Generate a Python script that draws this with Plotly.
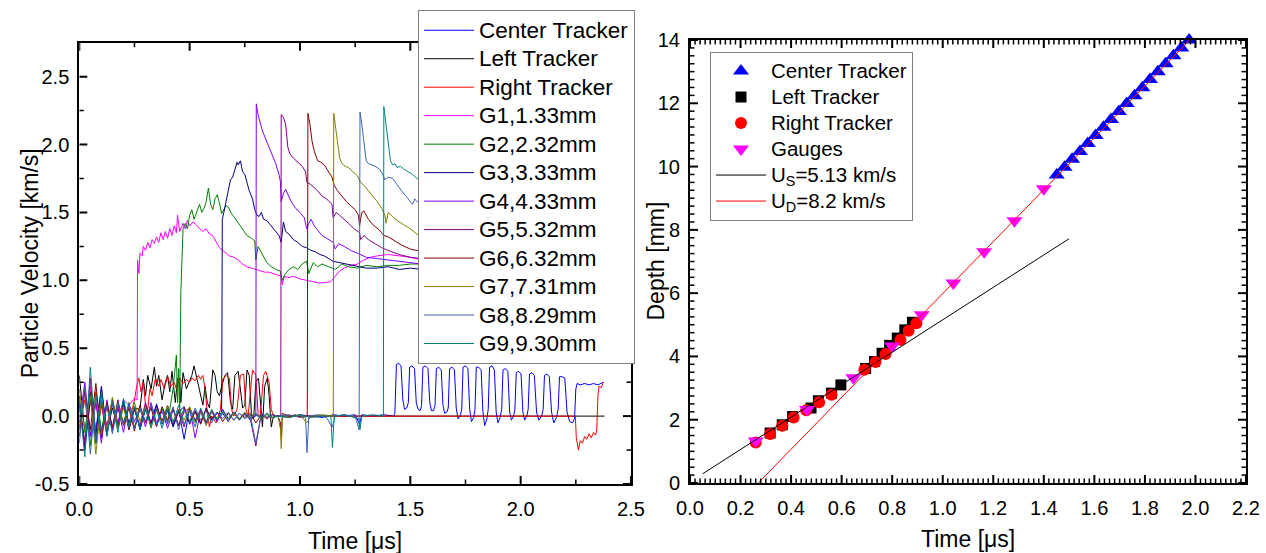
import plotly.graph_objects as go

W, H = 1266, 553
FONT = "Arial, Liberation Sans, sans-serif"

# ======================= Left panel: particle velocity traces =======================
# shared sampling times for the pre-arrival (noise) part of each record [us]
T_N = [0.000, 0.025, 0.050, 0.075, 0.100, 0.125, 0.150, 0.175, 0.200, 0.225,
       0.250, 0.275, 0.300, 0.325, 0.350, 0.375, 0.400, 0.425, 0.450, 0.475,
       0.500, 0.525, 0.550, 0.575, 0.600, 0.625, 0.650, 0.675, 0.700, 0.725,
       0.750, 0.775, 0.800, 0.825, 0.850, 0.875]

CT_NOISE = [0.08, -0.22, 0.15, -0.10, 0.20, -0.14, 0.09, -0.06, 0.11, -0.08, 0.05, -0.09,
            0.07, -0.05, 0.09, -0.06, 0.04, -0.07, 0.05, -0.17, 0.06, -0.04, 0.03, -0.05,
            0.04, -0.03, 0.02, -0.04, 0.03, -0.02, 0.02, -0.03, 0.01, -0.02, 0.02, -0.01]
CT_POST = [(0.90, 0.00), (0.95, -0.01), (1.00, 0.01), (1.05, 0.00), (1.10, -0.01), (1.15, 0.01),
           (1.20, 0.00), (1.25, 0.01), (1.27, -0.06), (1.28, 0.01), (1.33, 0.00), (1.38, 0.01),
           (1.425, 0.00),
           (1.430, 0.02), (1.437, 0.38), (1.447, 0.39), (1.458, 0.37), (1.466, 0.12), (1.474, 0.05), (1.484, 0.06),
           (1.491, 0.10), (1.497, 0.36), (1.508, 0.37), (1.519, 0.35), (1.527, 0.10), (1.535, 0.05), (1.545, 0.04),
           (1.551, 0.08), (1.557, 0.36), (1.568, 0.37), (1.580, 0.35), (1.588, 0.10), (1.596, 0.04), (1.605, 0.04),
           (1.612, 0.08), (1.618, 0.35), (1.629, 0.36), (1.640, 0.34), (1.648, 0.08), (1.656, 0.02), (1.666, 0.03),
           (1.672, 0.06), (1.678, 0.35), (1.689, 0.36), (1.700, 0.34), (1.708, 0.06), (1.716, -0.02), (1.726, 0.00),
           (1.733, 0.05), (1.739, 0.36), (1.750, 0.37), (1.761, 0.35), (1.769, 0.05), (1.777, -0.04), (1.787, -0.01),
           (1.793, 0.05), (1.799, 0.36), (1.810, 0.36), (1.821, 0.34), (1.829, 0.03), (1.837, -0.07), (1.847, -0.02),
           (1.853, 0.05), (1.859, 0.36), (1.870, 0.37), (1.881, 0.34), (1.889, 0.03), (1.897, -0.05), (1.907, -0.01),
           (1.914, 0.05), (1.920, 0.34), (1.931, 0.35), (1.942, 0.33), (1.950, 0.03), (1.958, -0.03), (1.968, 0.00),
           (1.974, 0.05), (1.980, 0.32), (1.991, 0.33), (2.002, 0.31), (2.010, 0.03), (2.018, -0.03), (2.028, 0.00),
           (2.034, 0.05), (2.040, 0.31), (2.051, 0.32), (2.062, 0.30), (2.072, 0.03), (2.082, -0.03), (2.095, 0.00),
           (2.102, 0.05), (2.108, 0.30), (2.119, 0.31), (2.130, 0.29), (2.140, 0.03), (2.150, -0.05), (2.162, -0.01),
           (2.170, 0.05), (2.176, 0.29), (2.188, 0.29), (2.200, 0.28), (2.210, 0.03), (2.222, -0.04), (2.235, -0.05),
           (2.244, -0.02), (2.250, 0.20), (2.256, 0.24), (2.270, 0.23), (2.290, 0.24), (2.310, 0.23),
           (2.330, 0.24), (2.350, 0.23), (2.375, 0.25)]

LT_NOISE = [0.30, -0.12, 0.18, -0.20, 0.10, -0.08, 0.12, -0.07, 0.09, -0.10, 0.06, 0.05]
LT_POST = [(0.29, 0.27), (0.30, 0.15), (0.31, 0.30), (0.325, 0.20), (0.34, 0.36), (0.35, 0.22), (0.36, 0.30),
           (0.375, 0.12), (0.39, 0.25), (0.40, 0.30), (0.41, 0.18), (0.42, 0.33), (0.435, 0.10), (0.445, 0.28),
           (0.455, 0.25), (0.46, 0.10), (0.47, 0.32), (0.485, 0.20), (0.50, 0.26), (0.51, 0.30), (0.52, 0.37),
           (0.53, 0.30), (0.545, 0.18), (0.56, 0.08), (0.57, 0.22), (0.58, 0.10), (0.59, 0.06), (0.605, 0.34),
           (0.615, 0.30), (0.625, 0.18), (0.635, 0.15), (0.645, 0.22), (0.66, 0.30), (0.672, 0.32), (0.685, 0.10),
           (0.695, 0.05), (0.705, 0.30), (0.72, 0.33), (0.73, 0.20), (0.74, 0.06), (0.75, 0.08), (0.76, 0.34),
           (0.77, 0.30), (0.78, 0.02), (0.79, -0.02), (0.80, 0.25), (0.812, 0.28), (0.82, 0.10), (0.83, -0.08),
           (0.84, 0.22), (0.852, 0.28), (0.86, 0.15), (0.87, -0.08), (0.88, 0.00), (0.90, 0.00), (1.50, 0.00),
           (2.38, 0.00)]

RT_NOISE = [-0.08, 0.12, -0.15, 0.10, -0.12, 0.07, -0.09, 0.05, -0.04, 0.06]
RT_POST = [(0.24, 0.05), (0.25, 0.12), (0.26, 0.22), (0.27, 0.28), (0.28, 0.18), (0.29, 0.25), (0.30, 0.08),
           (0.31, 0.05), (0.32, 0.20), (0.33, 0.15), (0.345, 0.28), (0.36, 0.22), (0.37, 0.27), (0.385, 0.20),
           (0.40, 0.29), (0.415, 0.22), (0.43, 0.25), (0.44, 0.20), (0.455, 0.28), (0.47, 0.24), (0.485, 0.27),
           (0.50, 0.25), (0.51, 0.28), (0.525, 0.26), (0.54, 0.30), (0.55, 0.27), (0.56, 0.30), (0.57, 0.20),
           (0.58, 0.02), (0.59, -0.08), (0.60, 0.00), (0.62, -0.05), (0.64, 0.05), (0.65, 0.27), (0.665, 0.30),
           (0.68, 0.28), (0.69, 0.05), (0.70, 0.00), (0.715, 0.05), (0.73, 0.30), (0.745, 0.31), (0.755, 0.05),
           (0.765, 0.00), (0.775, 0.15), (0.785, 0.34), (0.80, 0.30), (0.81, 0.02), (0.82, 0.00), (0.835, 0.30),
           (0.845, 0.33), (0.86, 0.25), (0.87, 0.05), (0.88, 0.00), (0.90, 0.00), (2.248, 0.00), (2.252, -0.16),
           (2.258, -0.22), (2.262, -0.25), (2.27, -0.18), (2.28, -0.20), (2.29, -0.15), (2.30, -0.17),
           (2.31, -0.13), (2.32, -0.16), (2.33, -0.12), (2.34, -0.14), (2.345, -0.10), (2.35, 0.15),
           (2.355, 0.22), (2.365, 0.21), (2.375, 0.25)]

G1_NOISE = [0.05, -0.18, 0.22, -0.12, 0.15, -0.08, 0.10, -0.05, 0.12, 0.08, 0.13]
G1_POST = [(0.262, 0.12), (0.264, 1.15), (0.27, 1.05), (0.275, 1.20), (0.285, 1.18), (0.29, 1.25), (0.30, 1.22),
           (0.31, 1.28), (0.32, 1.24), (0.33, 1.30), (0.34, 1.27), (0.35, 1.32), (0.36, 1.28), (0.37, 1.35),
           (0.38, 1.30), (0.39, 1.36), (0.40, 1.31), (0.41, 1.38), (0.42, 1.33), (0.43, 1.40), (0.44, 1.35),
           (0.445, 1.48), (0.455, 1.36), (0.47, 1.42), (0.48, 1.38), (0.49, 1.44), (0.50, 1.40), (0.515, 1.43),
           (0.53, 1.41), (0.545, 1.38), (0.56, 1.36), (0.575, 1.38), (0.59, 1.34), (0.605, 1.33), (0.62, 1.28),
           (0.635, 1.24), (0.65, 1.22), (0.665, 1.20), (0.68, 1.18), (0.70, 1.17), (0.72, 1.15), (0.74, 1.12),
           (0.76, 1.10), (0.78, 1.09), (0.80, 1.08), (0.82, 1.07), (0.84, 1.06), (0.86, 1.06), (0.88, 1.05),
           (0.90, 1.04), (0.915, 1.03), (0.92, 0.97), (0.93, 1.03), (0.95, 1.02), (0.97, 1.03), (1.00, 1.01),
           (1.03, 1.00), (1.06, 0.99), (1.09, 0.98), (1.12, 0.985), (1.14, 0.99), (1.16, 1.03), (1.18, 1.07),
           (1.20, 1.09), (1.23, 1.11), (1.26, 1.12), (1.29, 1.15), (1.32, 1.17), (1.35, 1.18), (1.40, 1.19),
           (1.45, 1.18), (1.50, 1.17), (1.55, 1.15), (1.60, 1.14)]

G2_NOISE = [-0.10, 0.20, -0.22, 0.18, -0.10, 0.09, -0.11, 0.08, -0.06, 0.10, -0.08, 0.05, -0.04, 0.08,
            -0.07, 0.06, -0.05, 0.20]
G2_POST = [(0.44, 0.45), (0.445, 0.10), (0.45, 0.35), (0.455, 0.00), (0.46, 0.90), (0.465, 1.25), (0.47, 1.38),
           (0.48, 1.42), (0.49, 1.38), (0.50, 1.48), (0.51, 1.52), (0.52, 1.45), (0.53, 1.50), (0.545, 1.56),
           (0.555, 1.50), (0.565, 1.53), (0.575, 1.58), (0.585, 1.68), (0.595, 1.56), (0.605, 1.52), (0.615, 1.60),
           (0.625, 1.63), (0.635, 1.57), (0.645, 1.49), (0.655, 1.52), (0.665, 1.55), (0.675, 1.54), (0.69, 1.49),
           (0.70, 1.47), (0.72, 1.42), (0.74, 1.38), (0.76, 1.33), (0.78, 1.31), (0.795, 1.29), (0.80, 1.15),
           (0.81, 1.25), (0.82, 1.22), (0.835, 1.17), (0.85, 1.13), (0.87, 1.10), (0.89, 1.08), (0.91, 1.07),
           (0.92, 1.00), (0.93, 1.04), (0.95, 1.08), (0.97, 1.10), (0.99, 1.08), (1.01, 1.12), (1.03, 1.14),
           (1.04, 1.05), (1.06, 1.13), (1.08, 1.10), (1.10, 1.12), (1.13, 1.10), (1.16, 1.08), (1.19, 1.12),
           (1.22, 1.10), (1.26, 1.09), (1.30, 1.11), (1.35, 1.10), (1.40, 1.11), (1.45, 1.11), (1.50, 1.12),
           (1.55, 1.12), (1.60, 1.11)]

G3_NOISE = [0.15, -0.25, 0.12, -0.15, 0.22, -0.12, 0.06, -0.09, 0.11, -0.05, 0.07, -0.10, 0.05, -0.06,
            0.08, -0.04, 0.06, -0.08, 0.03, 0.07, -0.06, 0.04, -0.05, 0.06, -0.03, 0.02]
G3_POST = [(0.645, 0.02), (0.648, 1.45), (0.655, 1.50), (0.665, 1.58), (0.675, 1.68), (0.685, 1.74),
           (0.695, 1.76), (0.705, 1.82), (0.715, 1.87), (0.72, 1.85), (0.73, 1.88), (0.74, 1.80), (0.75, 1.78),
           (0.76, 1.72), (0.77, 1.66), (0.785, 1.60), (0.795, 1.52), (0.805, 1.48), (0.815, 1.47), (0.825, 1.50),
           (0.835, 1.45), (0.85, 1.44), (0.87, 1.40), (0.89, 1.36), (0.905, 1.33), (0.915, 1.28), (0.925, 1.43),
           (0.935, 1.36), (0.95, 1.34), (0.97, 1.30), (0.99, 1.28), (1.01, 1.25), (1.03, 1.24), (1.05, 1.22),
           (1.07, 1.21), (1.09, 1.19), (1.11, 1.18), (1.13, 1.16), (1.15, 1.14), (1.18, 1.13), (1.21, 1.12),
           (1.24, 1.11), (1.27, 1.10), (1.30, 1.09), (1.35, 1.09), (1.40, 1.10), (1.45, 1.08), (1.50, 1.09),
           (1.55, 1.08), (1.60, 1.09)]

G4_NOISE = [-0.05, 0.25, -0.15, 0.10, -0.20, 0.12, -0.10, 0.07, -0.12, 0.09, -0.04, 0.06, -0.08, 0.10,
            -0.05, 0.04, -0.09, 0.05, -0.07, 0.03, 0.06, -0.16, 0.04, -0.05, 0.03, -0.04, 0.05, -0.02,
            0.03, -0.03, 0.02, -0.01]
G4_POST = [(0.80, 0.00), (0.802, 2.30), (0.81, 2.22), (0.82, 2.15), (0.83, 2.10), (0.845, 2.04), (0.86, 1.98),
           (0.875, 1.92), (0.89, 1.86), (0.905, 1.78), (0.912, 1.72), (0.915, 1.58), (0.925, 1.64), (0.935, 1.67),
           (0.945, 1.63), (0.96, 1.58), (0.98, 1.53), (1.00, 1.50), (1.02, 1.46), (1.03, 1.38), (1.04, 1.42),
           (1.05, 1.45), (1.065, 1.40), (1.08, 1.37), (1.10, 1.33), (1.12, 1.31), (1.15, 1.28), (1.16, 1.23),
           (1.175, 1.27), (1.20, 1.25), (1.23, 1.22), (1.26, 1.20), (1.30, 1.17), (1.35, 1.16), (1.40, 1.15),
           (1.45, 1.14), (1.50, 1.13), (1.55, 1.12), (1.60, 1.12)]

G5_NOISE = [0.10, -0.20, 0.28, -0.18, 0.08, -0.14, 0.12, -0.06, 0.09, -0.10, 0.05, -0.07, 0.10, -0.06,
            0.07, -0.04, 0.08, -0.06, 0.04, -0.08, 0.06, -0.03, 0.05, -0.06, 0.04, -0.03, 0.04, -0.02,
            0.03, -0.02, 0.01, -0.02, -0.22, 0.02, -0.01, 0.01]
G5_POST = [(0.90, 0.00), (0.913, 0.00), (0.915, 2.22), (0.925, 2.20), (0.935, 2.15), (0.945, 1.98),
           (0.955, 1.93), (0.97, 1.90), (0.99, 1.87), (1.01, 1.84), (1.025, 1.80), (1.032, 1.72), (1.045, 1.71),
           (1.06, 1.69), (1.08, 1.66), (1.10, 1.62), (1.12, 1.60), (1.145, 1.56), (1.15, 1.46), (1.165, 1.50),
           (1.18, 1.48), (1.20, 1.45), (1.22, 1.42), (1.245, 1.38), (1.27, 1.35), (1.275, 1.30), (1.29, 1.33),
           (1.31, 1.30), (1.34, 1.27), (1.37, 1.24), (1.40, 1.22), (1.45, 1.19), (1.50, 1.17), (1.55, 1.16),
           (1.60, 1.15)]

G6_NOISE = [-0.15, 0.18, -0.10, 0.24, -0.16, 0.10, -0.08, 0.12, -0.07, 0.06, -0.11, 0.08, -0.05, 0.06,
            -0.08, 0.07, -0.03, 0.05, -0.07, 0.06, -0.04, 0.03, -0.06, 0.05, -0.02, 0.03, -0.04, 0.02,
            -0.03, 0.02, -0.01, 0.02, -0.05, 0.01, -0.02, 0.01]
G6_POST = [(0.90, 0.00), (0.912, -0.05), (0.916, -0.18), (0.92, 0.02), (0.95, 0.00), (0.98, 0.01),
           (1.01, -0.01), (1.033, 0.00), (1.036, 2.23), (1.045, 2.15), (1.055, 2.02), (1.065, 1.95), (1.08, 1.88),
           (1.095, 1.87), (1.11, 1.85), (1.13, 1.80), (1.145, 1.76), (1.155, 1.70), (1.17, 1.66), (1.19, 1.62),
           (1.21, 1.58), (1.23, 1.55), (1.25, 1.52), (1.265, 1.48), (1.27, 1.40), (1.28, 1.50), (1.29, 1.51),
           (1.31, 1.45), (1.33, 1.41), (1.36, 1.37), (1.38, 1.33), (1.40, 1.32), (1.43, 1.29), (1.46, 1.26),
           (1.50, 1.23), (1.53, 1.22), (1.56, 1.21), (1.60, 1.21)]

G7_NOISE = [0.20, -0.12, 0.15, -0.28, 0.12, -0.10, 0.14, -0.09, 0.06, -0.08, 0.10, -0.04, 0.07, -0.09,
            0.05, -0.05, 0.08, -0.04, 0.05, -0.03, 0.07, -0.05, 0.03, -0.07, 0.04, -0.02, 0.03, -0.03,
            0.02, -0.02, 0.03, -0.01, 0.02, -0.02, 0.01, -0.01]
G7_POST = [(0.90, 0.00), (0.912, -0.10), (0.915, -0.24), (0.92, 0.01), (0.95, -0.01), (1.00, 0.01),
           (1.03, -0.05), (1.05, 0.00), (1.10, 0.01), (1.15, 0.00), (1.151, 0.00), (1.153, 2.23), (1.16, 2.15),
           (1.17, 2.00), (1.18, 1.90), (1.19, 1.86), (1.205, 1.84), (1.22, 1.83), (1.24, 1.80), (1.26, 1.77),
           (1.275, 1.72), (1.29, 1.70), (1.31, 1.66), (1.33, 1.62), (1.35, 1.58), (1.37, 1.53), (1.385, 1.48),
           (1.39, 1.42), (1.40, 1.50), (1.42, 1.47), (1.44, 1.44), (1.47, 1.41), (1.50, 1.38), (1.53, 1.34),
           (1.56, 1.32), (1.60, 1.30)]

G8_NOISE = [-0.20, 0.22, -0.28, 0.15, -0.12, 0.08, -0.13, 0.10, -0.06, 0.08, -0.09, 0.06, -0.04, 0.09,
            -0.07, 0.04, -0.06, 0.07, -0.10, 0.05, -0.04, 0.06, -0.03, 0.04, -0.05, 0.03, -0.02, 0.03,
            -0.03, 0.02, -0.02, 0.01, -0.20, 0.02, -0.01, 0.01]
G8_POST = [(0.90, 0.00), (0.95, 0.01), (1.00, -0.01), (1.025, 0.00), (1.032, -0.27), (1.04, 0.00),
           (1.08, 0.01), (1.12, -0.01), (1.146, -0.08), (1.16, 0.00), (1.20, 0.01), (1.25, 0.00),
           (1.268, -0.10), (1.272, 2.24), (1.28, 2.15), (1.29, 2.02), (1.30, 1.88), (1.31, 1.86), (1.325, 1.85),
           (1.34, 1.84), (1.36, 1.82), (1.375, 1.78), (1.385, 1.74), (1.40, 1.76), (1.42, 1.75), (1.44, 1.70),
           (1.46, 1.66), (1.48, 1.62), (1.50, 1.58), (1.51, 1.56), (1.52, 1.60), (1.53, 1.58), (1.55, 1.57),
           (1.60, 1.56)]

G9_NOISE = [0.12, -0.30, 0.36, -0.20, 0.18, -0.15, 0.10, -0.12, 0.13, -0.08, 0.07, -0.10, 0.06, -0.08,
            0.05, -0.09, 0.06, -0.05, 0.08, -0.06, 0.04, -0.08, 0.06, -0.04, 0.05, -0.03, 0.04, -0.02,
            0.03, -0.03, 0.02, -0.02, 0.02, -0.01, 0.02, -0.01]
G9_POST = [(0.90, 0.00), (0.95, -0.01), (1.00, 0.01), (1.05, -0.01), (1.10, 0.00), (1.14, 0.00),
           (1.147, -0.23), (1.155, 0.00), (1.20, 0.01), (1.25, -0.01), (1.268, -0.02), (1.272, -0.10),
           (1.28, 0.00), (1.33, 0.01), (1.378, 0.00), (1.38, 2.28), (1.39, 2.15), (1.40, 2.02), (1.41, 1.88),
           (1.42, 1.85), (1.43, 1.86), (1.44, 1.83), (1.455, 1.84), (1.47, 1.82), (1.49, 1.80), (1.51, 1.78),
           (1.53, 1.75), (1.55, 1.73), (1.60, 1.70)]

LEFT_NAMES = ["Center Tracker", "Left Tracker", "Right Tracker", "G1,1.33mm", "G2,2.32mm", "G3,3.33mm",
              "G4,4.33mm", "G5,5.32mm", "G6,6.32mm", "G7,7.31mm", "G8,8.29mm", "G9,9.30mm"]
LEFT_COLORS = ["#0000FF", "#000000", "#FF0000", "#FF00FF", "#008000", "#000080",
               "#8000FF", "#800080", "#800000", "#808000", "#3C64B4", "#008080"]
LEFT_DATA = [(CT_NOISE, CT_POST), (LT_NOISE, LT_POST), (RT_NOISE, RT_POST), (G1_NOISE, G1_POST),
             (G2_NOISE, G2_POST), (G3_NOISE, G3_POST), (G4_NOISE, G4_POST), (G5_NOISE, G5_POST),
             (G6_NOISE, G6_POST), (G7_NOISE, G7_POST), (G8_NOISE, G8_POST), (G9_NOISE, G9_POST)]

# ======================= Right panel: depth vs time =======================
CT_T = [1.451, 1.482, 1.512, 1.543, 1.574, 1.605, 1.636, 1.666, 1.697, 1.728, 1.759, 1.790,
        1.820, 1.851, 1.882, 1.913, 1.944, 1.975]
CT_D = [9.73, 9.98, 10.23, 10.48, 10.73, 10.98, 11.24, 11.49, 11.74, 11.99, 12.24, 12.49,
        12.75, 13.00, 13.25, 13.50, 13.75, 14.00]
LTR_T = [0.317, 0.365, 0.406, 0.479, 0.508, 0.560, 0.597, 0.695, 0.730, 0.760, 0.790, 0.820, 0.850, 0.880]
LTR_D = [1.58, 1.84, 2.10, 2.37, 2.60, 2.84, 3.10, 3.62, 3.84, 4.10, 4.35, 4.58, 4.84, 5.08]
RTR_T = [0.260, 0.317, 0.365, 0.410, 0.460, 0.511, 0.560, 0.690, 0.734, 0.774, 0.833, 0.865, 0.896]
RTR_D = [1.28, 1.55, 1.81, 2.07, 2.30, 2.55, 2.79, 3.58, 3.82, 4.08, 4.53, 4.81, 5.05]
GAUGE_T = [0.260, 0.463, 0.646, 0.800, 0.917, 1.042, 1.164, 1.284, 1.400]
GAUGE_D = [1.33, 2.32, 3.33, 4.33, 5.32, 6.32, 7.31, 8.29, 9.30]
US_T = [0.05, 1.50]
US_D = [0.29, 7.72]
UD_T = [0.27, 1.977]
UD_D = [0.00, 14.00]

# ======================= Axes: ranges, tick values and labels =======================
X1_RANGE = [0.0, 2.5]
Y1_RANGE = [-0.5, 2.75]
X2_RANGE = [0.0, 2.2]
Y2_RANGE = [0.0, 14.0]
X1_TICKS = [0.0, 0.5, 1.0, 1.5, 2.0, 2.5]
X1_LABELS = ["0.0", "0.5", "1.0", "1.5", "2.0", "2.5"]
X1_MINOR = [0.25, 0.75, 1.25, 1.75, 2.25]
Y1_TICKS = [-0.5, 0.0, 0.5, 1.0, 1.5, 2.0, 2.5]
Y1_LABELS = ["-0.5", "0.0", "0.5", "1.0", "1.5", "2.0", "2.5"]
Y1_MINOR = [-0.25, 0.25, 0.75, 1.25, 1.75, 2.25]
X2_TICKS = [0.0, 0.2, 0.4, 0.6, 0.8, 1.0, 1.2, 1.4, 1.6, 1.8, 2.0, 2.2]
X2_LABELS = ["0.0", "0.2", "0.4", "0.6", "0.8", "1.0", "1.2", "1.4", "1.6", "1.8", "2.0", "2.2"]
X2_MINOR = [round(i * 0.02, 2) for i in range(1, 110) if i % 10]
Y2_TICKS = [0, 2, 4, 6, 8, 10, 12, 14]
Y2_LABELS = ["0", "2", "4", "6", "8", "10", "12", "14"]
Y2_MINOR = [i * 0.25 for i in range(1, 56) if i % 8]

# subplot domains (paper fractions)
XD1 = [79.3 / W, 631 / W]
YD1 = [1 - 484 / H, 1 - 42.7 / H]
XD2 = [690 / W, 1246 / W]
YD2 = [1 - 483 / H, 1 - 40 / H]

# ======================= Figure =======================
fig = go.Figure()

LEG1_SPAN = '<span style="font-size:22.5px">%s</span>'
for name, color, (noise, post) in zip(LEFT_NAMES, LEFT_COLORS, LEFT_DATA):
    t = T_N[:len(noise)] + [p[0] for p in post]
    v = list(noise) + [p[1] for p in post]
    fig.add_trace(go.Scatter(x=t, y=v, mode="lines", name=LEG1_SPAN % name,
                             line=dict(color=color, width=1), xaxis="x", yaxis="y",
                             legend="legend"))

LEG2_SPAN = '<span style="font-size:20.5px">%s</span>'
fig.add_trace(go.Scatter(x=CT_T, y=CT_D, mode="markers", name=LEG2_SPAN % "Center Tracker",
                         marker=dict(symbol="triangle-up", size=14, color="#0000FF"),
                         cliponaxis=False, xaxis="x2", yaxis="y2", legend="legend2"))
fig.add_trace(go.Scatter(x=LTR_T, y=LTR_D, mode="markers", name=LEG2_SPAN % "Left Tracker",
                         marker=dict(symbol="square", size=11, color="#000000"),
                         cliponaxis=False, xaxis="x2", yaxis="y2", legend="legend2"))
fig.add_trace(go.Scatter(x=RTR_T, y=RTR_D, mode="markers", name=LEG2_SPAN % "Right Tracker",
                         marker=dict(symbol="circle", size=12, color="#FF0000"),
                         cliponaxis=False, xaxis="x2", yaxis="y2", legend="legend2"))
fig.add_trace(go.Scatter(x=GAUGE_T, y=GAUGE_D, mode="markers", name=LEG2_SPAN % "Gauges",
                         marker=dict(symbol="triangle-down", size=14, color="#FF00FF"),
                         cliponaxis=False, xaxis="x2", yaxis="y2", legend="legend2"))
fig.add_trace(go.Scatter(x=US_T, y=US_D, mode="lines", name=LEG2_SPAN % "U<sub>S</sub>=5.13 km/s",
                         line=dict(color="#000000", width=1), xaxis="x2", yaxis="y2", legend="legend2"))
fig.add_trace(go.Scatter(x=UD_T, y=UD_D, mode="lines", name=LEG2_SPAN % "U<sub>D</sub>=8.2 km/s",
                         line=dict(color="#FF0000", width=1), xaxis="x2", yaxis="y2", legend="legend2"))


# inward tick marks on all four sides of a box (drawn as line segments in axis coordinates)
def tick_segments(xr, yr, xd, yd, xticks, yticks, length_px):
    x_px = (xd[1] - xd[0]) * W / (xr[1] - xr[0])
    y_px = (yd[1] - yd[0]) * H / (yr[1] - yr[0])
    lx, ly = length_px / x_px, length_px / y_px
    xs, ys = [], []
    for t in xticks:
        xs += [t, t, None, t, t, None]
        ys += [yr[0], yr[0] + ly, None, yr[1], yr[1] - ly, None]
    for t in yticks:
        xs += [xr[0], xr[0] + lx, None, xr[1], xr[1] - lx, None]
        ys += [t, t, None, t, t, None]
    return xs, ys


for (xr, yr, xd, yd, xt, yt, xm, ym, xa, ya) in [
        (X1_RANGE, Y1_RANGE, XD1, YD1, X1_TICKS, Y1_TICKS, X1_MINOR, Y1_MINOR, "x", "y"),
        (X2_RANGE, Y2_RANGE, XD2, YD2, X2_TICKS, Y2_TICKS, X2_MINOR, Y2_MINOR, "x2", "y2")]:
    mx, my = tick_segments(xr, yr, xd, yd, xt, yt, 8)
    fig.add_trace(go.Scatter(x=mx, y=my, mode="lines", line=dict(color="black", width=2),
                             showlegend=False, hoverinfo="skip", xaxis=xa, yaxis=ya))
    nx, ny = tick_segments(xr, yr, xd, yd, xm, ym, 4.5)
    fig.add_trace(go.Scatter(x=nx, y=ny, mode="lines", line=dict(color="black", width=1.5),
                             showlegend=False, hoverinfo="skip", xaxis=xa, yaxis=ya))

axis_common = dict(showline=True, linecolor="black", linewidth=2, mirror=True,
                   ticks="", showgrid=False, zeroline=False, automargin=False,
                   tickmode="array", tickfont=dict(family=FONT, size=20, color="black"))

title_font = dict(family=FONT, size=23, color="black")
annotations = [
    dict(text="Time [μs]", x=(XD1[0] + XD1[1]) / 2, y=1 - 541 / H, xref="paper", yref="paper",
         showarrow=False, xanchor="center", yanchor="middle", font=title_font),
    dict(text="Particle Velocity [km/s]", x=30 / W, y=(YD1[0] + YD1[1]) / 2, xref="paper", yref="paper",
         showarrow=False, xanchor="center", yanchor="middle", textangle=-90, font=title_font),
    dict(text="Time [μs]", x=(XD2[0] + XD2[1]) / 2, y=1 - 539 / H, xref="paper", yref="paper",
         showarrow=False, xanchor="center", yanchor="middle", font=title_font),
    dict(text="Depth [mm]", x=655 / W, y=(YD2[0] + YD2[1]) / 2, xref="paper", yref="paper",
         showarrow=False, xanchor="center", yanchor="middle", textangle=-90, font=title_font),
]

fig.update_layout(
    width=W, height=H, autosize=False,
    margin=dict(l=0, r=0, t=0, b=0, autoexpand=False),
    paper_bgcolor="white", plot_bgcolor="white",
    font=dict(family=FONT, color="black"),
    showlegend=True,
    annotations=annotations,
    xaxis=dict(domain=XD1, range=X1_RANGE, anchor="y", tickvals=X1_TICKS, ticktext=X1_LABELS,
               ticklabelstandoff=6, **axis_common),
    yaxis=dict(domain=YD1, range=Y1_RANGE, anchor="x", tickvals=Y1_TICKS, ticktext=Y1_LABELS,
               ticklabelstandoff=4, **axis_common),
    xaxis2=dict(domain=XD2, range=X2_RANGE, anchor="y2", tickvals=X2_TICKS, ticktext=X2_LABELS,
                ticklabelstandoff=6, **axis_common),
    yaxis2=dict(domain=YD2, range=Y2_RANGE, anchor="x2", tickvals=Y2_TICKS, ticktext=Y2_LABELS,
                ticklabelstandoff=4, **axis_common),
    legend=dict(x=418 / W, y=1 - 10 / H, xanchor="left", yanchor="top", xref="paper", yref="paper",
                bgcolor="white", bordercolor="#808080", borderwidth=1,
                font=dict(family=FONT, size=19.6, color="black"), itemwidth=50, tracegroupgap=0),
    legend2=dict(x=710 / W, y=1 - 52 / H, xanchor="left", yanchor="top", xref="paper", yref="paper",
                 bgcolor="white", bordercolor="#808080", borderwidth=1,
                 font=dict(family=FONT, size=17.7, color="black"), itemwidth=50, tracegroupgap=0),
)

fig.write_html("out.html")
